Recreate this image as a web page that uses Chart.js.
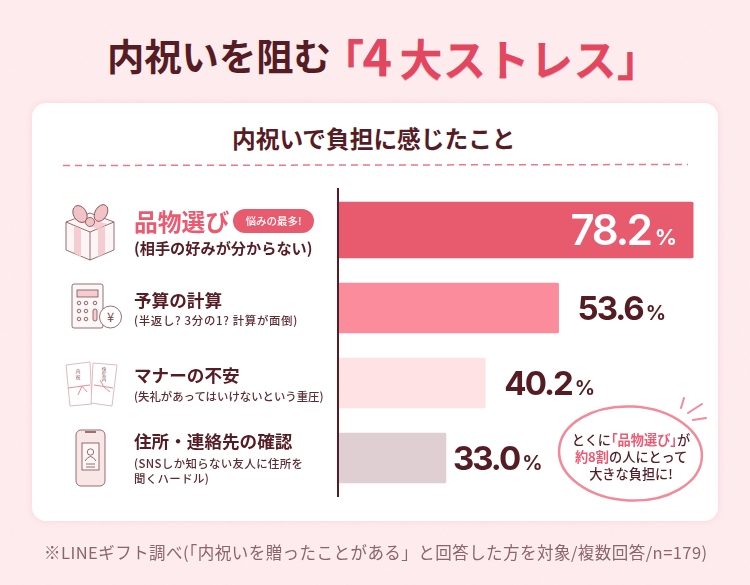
<!DOCTYPE html>
<html lang="ja">
<head>
<meta charset="UTF-8" />
<title>内祝いを阻む「4大ストレス」</title>
<script src="https://cdn.jsdelivr.net/npm/chart.js"></script>
<style>
  * { box-sizing: border-box; }
  html, body { margin: 0; width: 750px; height: 585px; overflow: hidden; }
  body {
    position: relative;
    font-family: "Noto Sans CJK JP", sans-serif;
    background-color: #feecee;
    background-image: url("data:image/svg+xml,%3Csvg xmlns='http://www.w3.org/2000/svg' width='300' height='300'%3E%3Cfilter id='n'%3E%3CfeTurbulence type='fractalNoise' baseFrequency='.35' numOctaves='3'/%3E%3CfeColorMatrix values='0 0 0 0 .85 0 0 0 0 .6 0 0 0 0 .62 0 0 0 .07 0'/%3E%3C/filter%3E%3Crect width='300' height='300' filter='url(%23n)'/%3E%3C/svg%3E");
    color: #561c24;
  }
  .abs { position: absolute; white-space: nowrap; line-height: 1; }
  .card {
    position: absolute; left: 32px; top: 103px; width: 686px; height: 418px;
    background: #fff; border-radius: 14px; box-shadow: 0 0 6px rgba(230,150,160,.25);
  }
  #title1 { left: 107px; top: 37px; font-size: 37.3px; font-weight: 700; }
  #title2 { left: 321px; top: 29px; font-size: 43px; font-weight: 700; color: #e2475f; letter-spacing: .5px; text-shadow: 0 1px 0 #f2a5b0; }
  #title2 span { font-size: 50px; margin-right: 7px; margin-left: -2px; }
  #sub { left: 232px; top: 127px; font-size: 23.7px; font-weight: 700; }
  canvas { position: absolute; left: 0; top: 0; }
  svg { position: absolute; left: 0; top: 0; }
  .name { left: 134px; font-size: 17.6px; font-weight: 700; }
  .note { left: 134px; font-size: 11.4px; font-weight: 500; color: #5f2c33; line-height: 15px; white-space: pre; }
  #badge {
    left: 233px; top: 209px; width: 81px; height: 24px; border-radius: 12px;
    background: #e85a6e; color: #fff; font-size: 10.5px; font-weight: 500;
    text-align: center; line-height: 23px;
  }
  #bubble { left: 556px; top: 432px; width: 150px; text-align: center; font-size: 13.2px; font-weight: 500; line-height: 16.8px; color: #561c24; }
  #bubble b { color: #ec5a72; font-weight: 700; }
  #bubble i { font-style: normal; font-feature-settings: "halt"; }
  #foot { left: 44px; top: 544px; font-size: 16.5px; color: #8a666b; font-weight: 400; letter-spacing: .46px; }
</style>
</head>
<body>
<div class="card"></div>
<div class="abs" id="title1">内祝いを阻む</div>
<div class="abs" id="title2">「<span>4</span>大ストレス」</div>
<div class="abs" id="sub">内祝いで負担に感じたこと</div>

<svg width="750" height="585" fill="none" stroke="#7d4a50" stroke-width="0.8">
  <line x1="63" y1="165.5" x2="688" y2="164.5" stroke="#ef7688" stroke-width="1.5" stroke-dasharray="7 5"/>

  <!-- gift -->
  <path d="M66 222 L90 213 L114 222 L114 250 L90 260 L66 250 Z" fill="#fdf5f5"/>
  <path d="M66 222 L90 232 L114 222 M90 232 V260"/>
  <path d="M74 226 L81 229 V257 L74 253 Z M98 229 L105 226 V253 L98 257 Z" fill="#f5cdd0" stroke="none"/>
  <path d="M73 219 L82 216 L107 224 L98 229 Z" fill="#f5cdd0" stroke="none"/>
  <ellipse cx="80" cy="214" rx="6.500" ry="9" fill="#f2c3c6" transform="rotate(-30 80 214)"/>
  <ellipse cx="101" cy="213" rx="6" ry="9" fill="#f2c3c6" transform="rotate(30 101 213)"/>
  <circle cx="90" cy="222" r="4.500" fill="#f2c3c6"/>

  <!-- calculator -->
  <rect x="72" y="284" width="31" height="44" rx="2" fill="#fdf8f8"/>
  <rect x="77" y="290" width="21" height="7" fill="#f5cdd0"/>
  <g fill="#fbe7e8">
    <circle cx="79" cy="303" r="1.800"/><circle cx="86" cy="303" r="1.800"/><circle cx="95" cy="303" r="1.800"/>
    <circle cx="79" cy="311" r="1.800"/><circle cx="86" cy="311" r="1.800"/>
    <circle cx="79" cy="319" r="1.800"/><circle cx="86" cy="319" r="1.800"/>
    <rect x="93" y="309" width="4" height="12" rx="2" fill="#f5cdd0"/>
  </g>
  <circle cx="110.500" cy="317" r="11" fill="#fff"/>
  <text x="110.500" y="322" text-anchor="middle" font-size="13" fill="#7d4a50" stroke="none">¥</text>

  <!-- noshi envelopes -->
  <g stroke="#d9a9ae">
    <path d="M66 365 L90 362 L92 404 L70 406 Z" fill="#fff"/>
    <path d="M93 363 L117 365 L112 406 L91 403 Z" fill="#fff"/>
  </g>
  <path d="M68 388 L90 385 M94 385 L113 388" stroke="#ef8a99" stroke-width="1"/>
  <path d="M78 395 L82 386 L87 392 M100 380 L104 387 L110 392" stroke="#ef8a99" stroke-width="1"/>
  <g fill="#7d4a50" stroke="none" font-size="4.500" text-anchor="middle">
    <text x="78" y="373">内</text><text x="78" y="379">祝</text>
    <text x="104" y="371">快</text><text x="104" y="376">気</text><text x="104" y="381">内</text>
  </g>

  <!-- phone -->
  <rect x="76" y="430" width="29" height="56" rx="5" fill="#f9e6e7"/>
  <rect x="82" y="443" width="17" height="27" fill="#fdf6f6"/>
  <circle cx="90.500" cy="452" r="3.200"/>
  <path d="M85 461 Q90.500 452 96 461 M86 464 H95 M86 467 H95"/>
  <path d="M85 432 H96" stroke-width="1.500"/>

  <!-- bubble -->
  <ellipse cx="630.500" cy="453.500" rx="71.500" ry="47" fill="#fff" stroke="#f28a9a" stroke-width="2.500" transform="rotate(3 630.500 453.500)"/>
  <path d="M684 398 L681 408 M702 404 L688 413 M706 418 L693 420" stroke="#f28a9a" stroke-width="2" stroke-linecap="round"/>
</svg>

<canvas id="barChart" width="750" height="585"></canvas>

<div id="labels"></div>
<div class="abs" id="badge">悩みの最多!</div>
<div class="abs" id="bubble">とくに<b><i>「</i>品物選び<i>」</i></b>が<br><b>約8割</b>の人にとって<br>大きな負担に!</div>
<div class="abs" id="foot">※LINEギフト調べ(「内祝いを贈ったことがある」と回答した方を対象/複数回答/n=179)</div>

<script>
const categories = ["品物選び", "予算の計算", "マナーの不安", "住所・連絡先の確認"];
const notes = [
  "(相手の好みが分からない)",
  "(半返し? 3分の1? 計算が面倒)",
  "(失礼があってはいけないという重圧)",
  "(SNSしか知らない友人に住所を\n聞くハードル)"
];
const values = [78.2, 53.6, 40.2, 33.0];
const barColors = ["#e85a6e", "#fb8c9b", "#ffe2e4", "#e0cfd2"];

// row text
const nameTops = [209, 291, 366, 432];
const noteTops = [240, 313, 389, 456];
const noteSpacing = [0, 0.7, 0, 0.4];
const labels = document.getElementById("labels");
categories.forEach((c, i) => {
  const n = document.createElement("div");
  n.className = "abs name";
  n.style.top = nameTops[i] + "px";
  n.textContent = c;
  const s = document.createElement("div");
  s.className = "abs note";
  s.style.top = noteTops[i] + "px";
  s.style.letterSpacing = noteSpacing[i] + "px";
  s.textContent = notes[i];
  if (i == 0) {
    n.style.fontSize = "23.800px";
    n.style.color = "#ec5a72";
    s.style.fontSize = "15.200px";
    s.style.fontWeight = "700";
    s.style.color = "#561c24";
  }
  labels.appendChild(n);
  labels.appendChild(s);
});

const NUM_FONT = 'Inter, sans-serif';
// gap between bar end and its label, rows 2-4
const labelGaps = [0, 19, 19, 7];

const valueLabels = {
  id: "valueLabels",
  afterDatasetsDraw(chart) {
    const ctx = chart.ctx;
    ctx.save();
    ctx.textBaseline = "alphabetic";
    chart.data.datasets.forEach((ds, d) => {
      chart.getDatasetMeta(d).data.forEach((bar, i) => {
        if (ds.data[i] == null) return;
        const txt = ds.data[i].toFixed(1);
        if (i == 0) {
          // top bar carries its label inside, in white
          ctx.fillStyle = "#fff";
          ctx.textAlign = "right";
          ctx.letterSpacing = "0px";
          ctx.font = "700 22px " + NUM_FONT;
          const pw = ctx.measureText("%").width;
          ctx.fillText("%", bar.x - 16, bar.y + 15);
          ctx.letterSpacing = "-2.200px";
          ctx.font = "600 42px " + NUM_FONT;
          ctx.fillText(txt, bar.x - 16 - pw - 4, bar.y + 15);
        } else {
          const x = bar.x + labelGaps[i];
          ctx.fillStyle = "#561c24";
          ctx.textAlign = "left";
          ctx.letterSpacing = "-2px";
          ctx.font = "700 33px " + NUM_FONT;
          const w = ctx.measureText(txt).width;
          ctx.fillText(txt, x, bar.y + 12);
          ctx.letterSpacing = "0px";
          ctx.font = "700 20px " + NUM_FONT;
          ctx.fillText("%", x + w + 3, bar.y + 12);
        }
      });
    });
    ctx.restore();
  }
};

// vertical rule, runs a little past the plot at both ends
const baseLine = {
  id: "baseLine",
  afterDraw(chart) {
    const ctx = chart.ctx;
    const x = chart.scales.x.left;
    ctx.save();
    ctx.strokeStyle = "#561c24";
    ctx.lineWidth = 2;
    ctx.beginPath();
    ctx.moveTo(x - 1, chart.chartArea.top - 7.5);
    ctx.lineTo(x - 1, chart.chartArea.bottom + 1.5);
    ctx.stroke();
    ctx.restore();
  }
};

// the highlighted top bar sits slightly above its row centre
const liftTopBar = {
  id: "liftTopBar",
  afterDatasetsUpdate(chart) {
    chart.getDatasetMeta(0).data[0].y -= 3;
  }
};

new Chart(document.getElementById("barChart"), {
  type: "bar",
  data: {
    labels: categories,
    datasets: [
      {
        data: values.map((v, i) => (i == 0 ? v : null)),
        backgroundColor: barColors,
        barThickness: 56,
        grouped: false,
        borderRadius: 1.5
      },
      {
        data: values.map((v, i) => (i == 0 ? null : v)),
        backgroundColor: barColors,
        barThickness: 50,
        grouped: false,
        borderRadius: 1.5
      }
    ]
  },
  options: {
    indexAxis: "y",
    responsive: false,
    animation: false,
    layout: { padding: { left: 339, right: 47, top: 195.5, bottom: 89.5 } },
    plugins: { legend: { display: false }, tooltip: { enabled: false } },
    scales: {
      x: { display: false, min: 13.45, max: 80 },
      y: { display: false }
    }
  },
  plugins: [valueLabels, baseLine, liftTopBar]
});
</script>
</body>
</html>
